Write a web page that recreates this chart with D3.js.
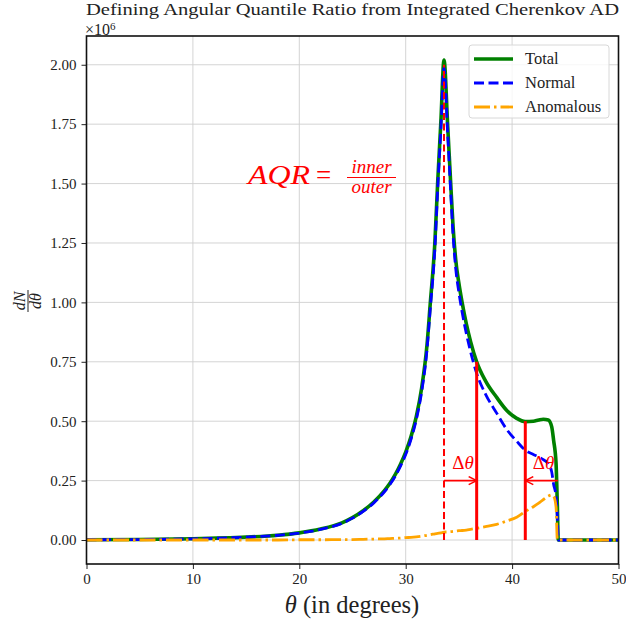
<!DOCTYPE html>
<html><head><meta charset="utf-8">
<script src="https://cdn.jsdelivr.net/npm/d3@7"></script>
<style>body{margin:0;background:#fff} text{font-family:"Liberation Serif","DejaVu Serif",serif;fill:#222}</style>
</head><body><svg id="c" width="626" height="623"></svg>
<script>
// ---- data (values in units of 1e6) ----
const theta     = [0, 5, 10, 15, 18, 20, 22, 24, 25, 26, 27, 28, 28.5, 29, 29.5, 30, 30.5, 31, 31.5, 32, 32.3, 32.75, 33.0, 33.3, 33.6, 33.95, 34.23, 34.45, 34.7, 35.0, 35.3, 35.7, 36.1, 36.67, 37.5, 38.55, 39.5, 40.43, 41.24, 42.0, 42.5, 42.93, 43.4, 43.72, 43.9, 44.13, 44.25, 44.34, 45, 50];
const total     = [0.001, 0.002, 0.005, 0.012, 0.02, 0.03, 0.046, 0.072, 0.094, 0.123, 0.16, 0.208, 0.238, 0.274, 0.318, 0.37, 0.435, 0.52, 0.64, 0.82, 0.99, 1.26, 1.50, 1.755, 2.02, 1.74, 1.50, 1.32, 1.18, 1.08, 1.0, 0.91, 0.835, 0.75, 0.67, 0.60, 0.545, 0.512, 0.498, 0.500, 0.505, 0.508, 0.505, 0.477, 0.42, 0.323, 0.15, 0.0, 0.0, 0.0];
const normal    = [0.001, 0.002, 0.005, 0.012, 0.02, 0.029, 0.045, 0.07, 0.092, 0.12, 0.156, 0.203, 0.232, 0.267, 0.31, 0.36, 0.424, 0.507, 0.624, 0.80, 0.968, 1.234, 1.472, 1.725, 1.987, 1.706, 1.465, 1.284, 1.143, 1.041, 0.96, 0.868, 0.792, 0.701, 0.614, 0.534, 0.465, 0.416, 0.378, 0.36, 0.35, 0.338, 0.32, 0.287, 0.235, 0.183, 0.1, 0.0, 0.0, 0.0];
const anomalous = [0, 0, 0, 0, 0, 0.001, 0.001, 0.002, 0.002, 0.003, 0.004, 0.005, 0.006, 0.007, 0.008, 0.01, 0.011, 0.013, 0.016, 0.02, 0.022, 0.026, 0.028, 0.03, 0.033, 0.034, 0.035, 0.036, 0.037, 0.039, 0.04, 0.042, 0.045, 0.049, 0.056, 0.066, 0.08, 0.096, 0.12, 0.14, 0.155, 0.17, 0.185, 0.19, 0.185, 0.14, 0.0, 0.0, 0.0, 0.0];
const xTicks = [0, 10, 20, 30, 40, 50];
const yTicks = [0, 0.25, 0.5, 0.75, 1.0, 1.25, 1.5, 1.75, 2.0];
const quantileTheta  = [33.6, 36.67, 41.24];
const quantileHeight = [2.0, 0.75, 0.50];
const arrowLevel = 0.25;
const arrowSpans = [[33.6, 36.67], [44.3, 41.24]];
const legendLabels = ["Total", "Normal", "Anomalous"];
const titleText = "Defining Angular Quantile Ratio from Integrated Cherenkov AD";

const svg = d3.select("#c");
const L = 86.5, R = 618.5, T = 36, B = 564;
const x = d3.scaleLinear().domain([0, 50]).range([L, R]);
const y = d3.scaleLinear().domain([-0.101, 2.121]).range([B, T]);

// grid
const g = svg.append("g");
g.selectAll(".gx").data(xTicks).join("line")
  .attr("x1", d => x(d)).attr("x2", d => x(d)).attr("y1", T).attr("y2", B)
  .attr("stroke", "#cfcfcf").attr("stroke-width", 0.9);
g.selectAll(".gy").data(yTicks).join("line")
  .attr("y1", d => y(d)).attr("y2", d => y(d)).attr("x1", L).attr("x2", R)
  .attr("stroke", "#cfcfcf").attr("stroke-width", 0.9);

// axes
const xa = svg.append("g").attr("transform", `translate(0,${B})`)
  .call(d3.axisBottom(x).tickValues(xTicks).tickSize(5).tickPadding(4).tickFormat(d3.format("d")));
const ya = svg.append("g").attr("transform", `translate(${L},0)`)
  .call(d3.axisLeft(y).tickValues(yTicks).tickSize(5).tickPadding(5).tickFormat(d3.format(".2f")));
[xa, ya].forEach(a => {
  a.select(".domain").remove();
  a.selectAll("text").attr("font-family", "Liberation Serif").attr("font-size", 15).attr("fill", "#222");
  a.selectAll("line").attr("stroke", "#222").attr("stroke-width", 1);
});

// curves
const pts = arr => theta.map((t, i) => [t, arr[i]]);
const line = d3.line().x(d => x(d[0])).y(d => y(d[1])).curve(d3.curveMonotoneX);
svg.append("path").attr("d", line(pts(total))).attr("fill", "none")
  .attr("stroke", "#008000").attr("stroke-width", 3.6).attr("stroke-linejoin", "round");
svg.append("path").attr("d", line(pts(normal))).attr("fill", "none")
  .attr("stroke", "#0000ff").attr("stroke-width", 2.8).attr("stroke-dasharray", "10,4.5");
svg.append("path").attr("d", line(pts(anomalous))).attr("fill", "none")
  .attr("stroke", "#ffa500").attr("stroke-width", 2.8).attr("stroke-dasharray", "16,4,2.5,4");

// quantile lines
svg.selectAll(".q").data(quantileTheta).join("line")
  .attr("x1", d => x(d)).attr("x2", d => x(d))
  .attr("y1", y(0)).attr("y2", (d, i) => y(quantileHeight[i]))
  .attr("stroke", "red")
  .attr("stroke-width", (d, i) => i === 0 ? 2 : 3)
  .attr("stroke-dasharray", (d, i) => i === 0 ? "7,3.5" : null);

// arrows
svg.append("defs").append("marker").attr("id", "ah")
  .attr("viewBox", "0 0 10 10").attr("refX", 9).attr("refY", 5)
  .attr("markerWidth", 10).attr("markerHeight", 10).attr("markerUnits", "userSpaceOnUse")
  .attr("orient", "auto")
  .append("path").attr("d", "M1,1 L9,5 L1,9").attr("fill", "none").attr("stroke", "red").attr("stroke-width", 1.5);
svg.selectAll(".ar").data(arrowSpans).join("line")
  .attr("x1", d => x(d[0])).attr("x2", d => x(d[1]))
  .attr("y1", y(arrowLevel)).attr("y2", y(arrowLevel))
  .attr("stroke", "red").attr("stroke-width", 1.6).attr("marker-end", "url(#ah)");
const dLab = [463, 543.5];
dLab.forEach(cx => {
  const t = svg.append("text").attr("x", cx).attr("y", 469).attr("text-anchor", "middle")
    .attr("font-size", 19).style("fill", "red");
  t.append("tspan").text("Δ");
  t.append("tspan").attr("font-style", "italic").text("θ");
});

// AQR annotation
svg.append("text").attr("x", 248).attr("y", 184).attr("font-size", 27).attr("font-style", "italic")
  .attr("textLength", 62).attr("lengthAdjust", "spacingAndGlyphs").style("fill", "red").text("AQR");
svg.append("text").attr("x", 323.5).attr("y", 184).attr("font-size", 27).attr("text-anchor", "middle")
  .style("fill", "red").text("=");
svg.append("line").attr("x1", 347).attr("x2", 396).attr("y1", 177.5).attr("y2", 177.5)
  .attr("stroke", "red").attr("stroke-width", 1.2);
svg.append("text").attr("x", 371.5).attr("y", 172.5).attr("font-size", 19).attr("font-style", "italic")
  .attr("text-anchor", "middle").style("fill", "red").text("inner");
svg.append("text").attr("x", 371.5).attr("y", 193).attr("font-size", 19).attr("font-style", "italic")
  .attr("text-anchor", "middle").style("fill", "red").text("outer");

// frame
svg.append("rect").attr("x", L).attr("y", T).attr("width", R - L).attr("height", B - T)
  .attr("fill", "none").attr("stroke", "#111").attr("stroke-width", 1.6);

// legend
const lg = svg.append("g");
lg.append("rect").attr("x", 469).attr("y", 45).attr("width", 140).attr("height", 73).attr("rx", 3)
  .attr("fill", "white").attr("fill-opacity", 0.8).attr("stroke", "#d8d8d8");
const lstyles = [
  {c: "#008000", w: 3.6, d: null},
  {c: "#0000ff", w: 2.8, d: "10,4.5"},
  {c: "#ffa500", w: 2.8, d: "16,4,2.5,4"}
];
legendLabels.forEach((lab, i) => {
  const yy = 59 + i * 24;
  lg.append("line").attr("x1", 474).attr("x2", 513).attr("y1", yy).attr("y2", yy)
    .attr("stroke", lstyles[i].c).attr("stroke-width", lstyles[i].w).attr("stroke-dasharray", lstyles[i].d);
  lg.append("text").attr("x", 525).attr("y", yy + 5).attr("font-size", 16.5).text(lab);
});

// title and multiplier
svg.append("text").attr("x", 86).attr("y", 15).attr("font-size", 17)
  .attr("textLength", 533).attr("lengthAdjust", "spacingAndGlyphs").text(titleText);
const mt = svg.append("text").attr("x", 85).attr("y", 34.5).style("font-size", "16px");
mt.append("tspan").text("×10");
mt.append("tspan").style("font-size", "11px").attr("dy", -5).text("6");

// x label
const xl = svg.append("text").attr("x", 352).attr("y", 613).attr("text-anchor", "middle").attr("font-size", 24.5);
xl.append("tspan").attr("font-style", "italic").text("θ");
xl.append("tspan").text(" (in degrees)");

// y label
const yl = svg.append("g").attr("transform", "translate(28,301) rotate(-90)");
yl.append("line").attr("x1", -11).attr("x2", 11).attr("y1", 0).attr("y2", 0).attr("stroke", "#222").attr("stroke-width", 1);
yl.append("text").attr("x", 0).attr("y", -3).attr("text-anchor", "middle").attr("font-size", 16).attr("font-style", "italic").text("dN");
yl.append("text").attr("x", 0).attr("y", 13).attr("text-anchor", "middle").attr("font-size", 16).attr("font-style", "italic").text("dθ");
</script></body></html>
